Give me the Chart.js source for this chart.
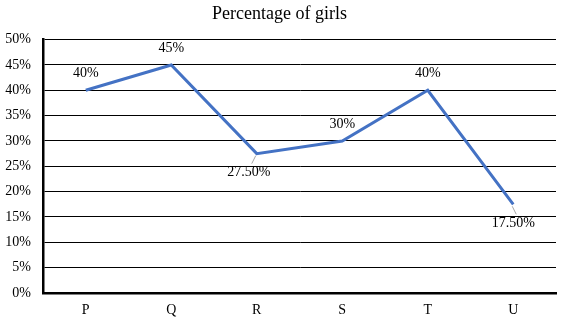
<!DOCTYPE html>
<html>
<head>
<meta charset="utf-8">
<script src="https://cdn.jsdelivr.net/npm/chart.js@4/dist/chart.umd.min.js"></script>
<style>
  html, body { margin: 0; padding: 0; background: #fff; }
  #wrap { width: 562px; height: 322px; }
</style>
</head>
<body>
<div id="wrap"><canvas id="girlsChart"></canvas></div>
<script>
// share of girls per group
const groups = ['P', 'Q', 'R', 'S', 'T', 'U'];
const girlsPct = [40, 45, 27.5, 30, 40, 17.5];
const yTicks = [0, 5, 10, 15, 20, 25, 30, 35, 40, 45, 50];

// where each value label sits relative to its point
const labelSide = ['above', 'above', 'below', 'above', 'above', 'below'];
const labelShift = [0, 0, -8, 0, 0, 0];

const SERIF = '"Liberation Serif", "Times New Roman", serif';

function pctText(v) {
  return Number.isInteger(v) ? v + '%' : v.toFixed(2) + '%';
}

const valueLabels = {
  id: 'valueLabels',
  afterDatasetsDraw(chart) {
    const ctx = chart.ctx;
    const meta = chart.getDatasetMeta(0);
    ctx.save();
    ctx.font = '14px ' + SERIF;
    ctx.fillStyle = '#000';
    ctx.textAlign = 'center';
    ctx.textBaseline = 'middle';
    meta.data.forEach((pt, i) => {
      const below = labelSide[i] === 'below';
      const lx = pt.x + labelShift[i];
      const ly = below ? pt.y + 19 : pt.y - 17;
      if (below) {
        // short leader from the point to the label
        ctx.strokeStyle = '#a6a6a6';
        ctx.lineWidth = 1;
        ctx.beginPath();
        ctx.moveTo(pt.x - 1, pt.y + 2);
        ctx.lineTo(lx + 3, ly - 9);
        ctx.stroke();
      }
      ctx.fillText(pctText(girlsPct[i]), lx, ly);
    });
    ctx.restore();
  }
};

new Chart(document.getElementById('girlsChart'), {
  type: 'line',
  data: {
    labels: groups,
    datasets: [{
      label: 'Percentage of girls',
      data: girlsPct,
      borderColor: '#4472C4',
      borderWidth: 3,
      pointRadius: 0,
      tension: 0,
      fill: false
    }]
  },
  options: {
    responsive: true,
    maintainAspectRatio: false,
    animation: false,
    layout: { padding: { left: 3, right: 6, top: 0, bottom: 0 } },
    plugins: {
      legend: { display: false },
      tooltip: { enabled: false },
      title: {
        display: true,
        text: 'Percentage of girls',
        color: '#000',
        font: { family: SERIF, size: 18, weight: 'normal' },
        padding: { top: 3, bottom: 15 }
      }
    },
    scales: {
      x: {
        offset: true,
        grid: { display: false, drawTicks: false },
        border: { display: true, color: '#000', width: 2.5 },
        afterFit: axis => { axis.height = 29; },
        ticks: {
          color: '#000',
          padding: 9,
          font: { family: SERIF, size: 14 }
        }
      },
      y: {
        min: 0,
        max: 50,
        afterBuildTicks: axis => { axis.ticks = yTicks.map(v => ({ value: v })); },
        afterFit: axis => { axis.width = 40; },
        grid: { color: '#000', lineWidth: 1, drawTicks: false },
        border: { display: true, color: '#000', width: 2.5 },
        ticks: {
          color: '#000',
          padding: 12,
          font: { family: SERIF, size: 14 },
          callback: v => v + '%'
        }
      }
    }
  },
  plugins: [valueLabels]
});
</script>
</body>
</html>
